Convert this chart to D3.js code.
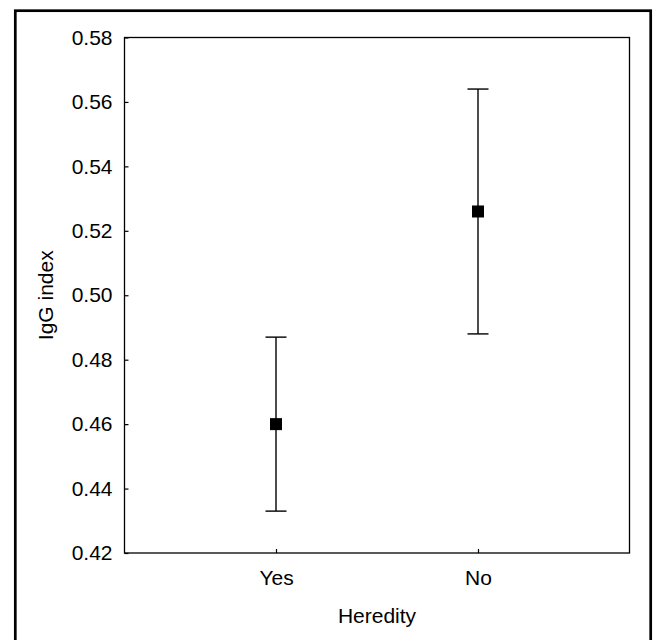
<!DOCTYPE html>
<html>
<head>
<meta charset="utf-8">
<script src="https://cdn.jsdelivr.net/npm/d3@7"></script>
<style>
  html, body { margin: 0; padding: 0; background: #fff; }
  svg { display: block; }
  text { font-family: "Liberation Sans", Arial, sans-serif; fill: #000; }
</style>
</head>
<body>
<script>
const categories = ["Yes", "No"];
const means = [0.460, 0.526];
const lowerBounds = [0.433, 0.488];
const upperBounds = [0.487, 0.564];
const yTickValues = [0.42, 0.44, 0.46, 0.48, 0.50, 0.52, 0.54, 0.56, 0.58];
const xTitle = "Heredity";
const yTitle = "IgG index";

const W = 657, H = 640;
const plot = { left: 124.5, right: 629.5, top: 37.5, bottom: 553 };

const svg = d3.select("body").append("svg").attr("width", W).attr("height", H);

// outer border
svg.append("rect")
  .attr("x", 15.3).attr("y", 10.7)
  .attr("width", 635.4).attr("height", 700)
  .attr("fill", "none").attr("stroke", "#000").attr("stroke-width", 2.7);

const x = d3.scaleLinear().domain([0.25, 2.75]).range([plot.left, plot.right]);
const y = d3.scaleLinear().domain([0.42, 0.58]).range([plot.bottom, plot.top]);

const yAxis = d3.axisLeft(y).tickValues(yTickValues).tickFormat(d3.format(".2f"))
  .tickSizeInner(-4).tickSizeOuter(0).tickPadding(12);
const gy = svg.append("g").attr("transform", `translate(${plot.left},0)`).call(yAxis);
gy.select(".domain").remove();
gy.selectAll("text").style("font-size", "21px").style("font-family", '"Liberation Sans", Arial, sans-serif');
gy.selectAll("line").attr("stroke", "#000").attr("stroke-width", 1.2);

const xAxis = d3.axisBottom(x).tickValues(categories.map((c, i) => i + 1))
  .tickFormat((d) => categories[d - 1])
  .tickSizeInner(-4).tickSizeOuter(0).tickPadding(17);
const gx = svg.append("g").attr("transform", `translate(0,${plot.bottom})`).call(xAxis);
gx.select(".domain").remove();
gx.selectAll("text").style("font-size", "21px").style("font-family", '"Liberation Sans", Arial, sans-serif');
gx.selectAll("line").attr("stroke", "#000").attr("stroke-width", 1.2);

// plot frame
svg.append("rect")
  .attr("x", plot.left).attr("y", plot.top)
  .attr("width", plot.right - plot.left).attr("height", plot.bottom - plot.top)
  .attr("fill", "none").attr("stroke", "#000").attr("stroke-width", 1.3);

// error bars
const data = categories.map((c, i) => ({ c, i: i + 1, m: means[i], lo: lowerBounds[i], hi: upperBounds[i] }));
const capHalf = 10.5;
const eg = svg.append("g").attr("stroke", "#000").attr("stroke-width", 1.4);
data.forEach(d => {
  const cx = x(d.i);
  eg.append("line").attr("x1", cx).attr("x2", cx).attr("y1", y(d.hi)).attr("y2", y(d.lo));
  eg.append("line").attr("x1", cx - capHalf).attr("x2", cx + capHalf).attr("y1", y(d.hi)).attr("y2", y(d.hi));
  eg.append("line").attr("x1", cx - capHalf).attr("x2", cx + capHalf).attr("y1", y(d.lo)).attr("y2", y(d.lo));
});

// markers
const ms = 12;
svg.append("g").selectAll("rect").data(data).join("rect")
  .attr("x", d => x(d.i) - ms / 2).attr("y", d => y(d.m) - ms / 2)
  .attr("width", ms).attr("height", ms).attr("fill", "#000");

// axis titles
svg.append("text")
  .attr("x", (plot.left + plot.right) / 2).attr("y", 623)
  .attr("text-anchor", "middle").style("font-size", "21px")
  .text(xTitle);

svg.append("text")
  .attr("transform", `translate(53,${(plot.top + plot.bottom) / 2}) rotate(-90)`)
  .attr("text-anchor", "middle").style("font-size", "21px")
  .text(yTitle);
</script>
</body>
</html>
